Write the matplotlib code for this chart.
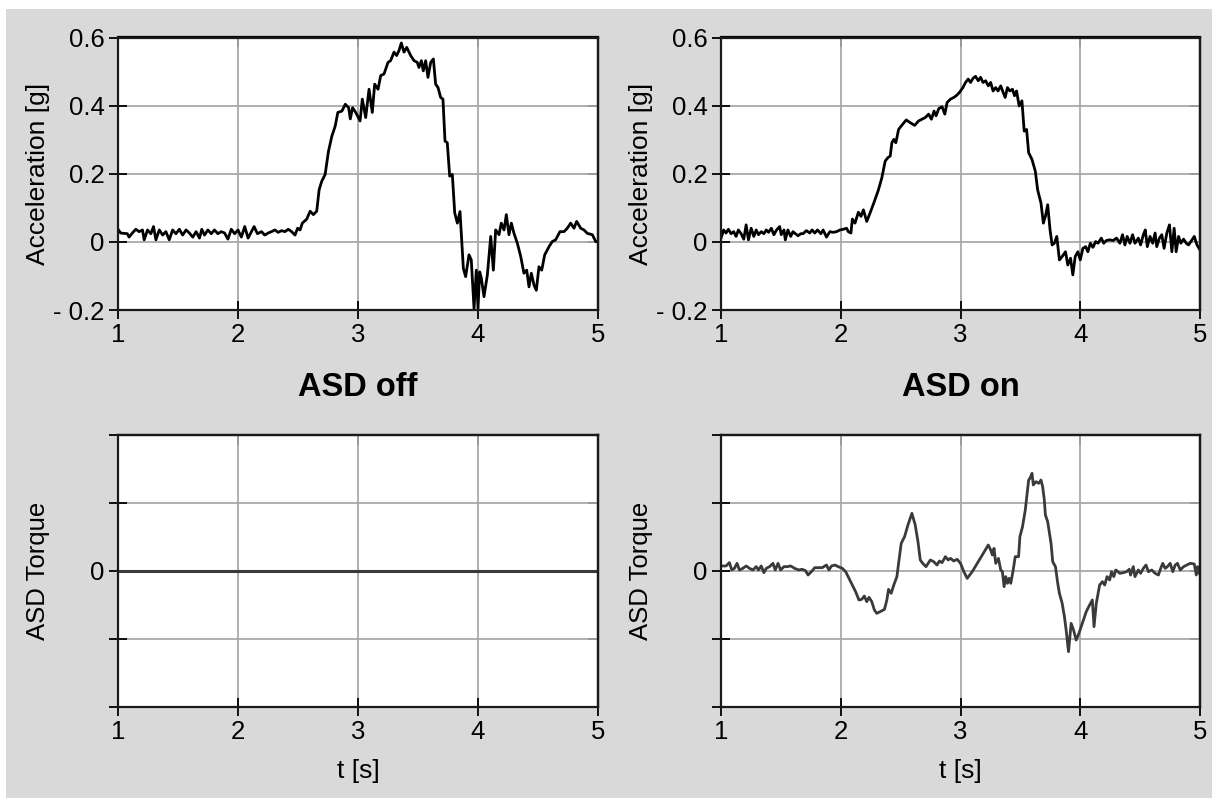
import matplotlib
matplotlib.use("Agg")
import matplotlib.pyplot as plt
from matplotlib.patches import Rectangle

plt.rcParams["font.family"] = ["Liberation Sans", "DejaVu Sans"]

# ---- data ----
x_ticks = [1, 2, 3, 4, 5]

acc_yticks = [-0.2, 0, 0.2, 0.4, 0.6]
acc_ylabels = ["- 0.2", "0", "0.2", "0.4", "0.6"]

torque_yticks = [-2, -1, 0, 1, 2]
torque_ylabels = ["", "", "0", "", ""]

# ASD off, acceleration
t_acc_off = [
    1.000, 1.022, 1.078, 1.092, 1.120, 1.148, 1.176, 1.204, 1.218, 1.246,
    1.274, 1.296, 1.316, 1.344, 1.372, 1.399, 1.427, 1.455, 1.483, 1.511,
    1.539, 1.567, 1.595, 1.623, 1.651, 1.679, 1.698, 1.721, 1.749, 1.777,
    1.804, 1.832, 1.860, 1.888, 1.916, 1.944, 1.972, 2.000, 2.028, 2.056,
    2.084, 2.112, 2.134, 2.162, 2.196, 2.223, 2.251, 2.279, 2.307, 2.335,
    2.363, 2.391, 2.419, 2.447, 2.475, 2.497, 2.517, 2.536, 2.573, 2.601,
    2.628, 2.656, 2.676, 2.698, 2.726, 2.754, 2.782, 2.810, 2.832, 2.866,
    2.894, 2.922, 2.936, 2.955, 2.983,
    3.017, 3.036, 3.064, 3.092, 3.119, 3.139, 3.167, 3.189, 3.217, 3.250,
    3.272, 3.300, 3.322, 3.342, 3.361, 3.383, 3.406, 3.439, 3.467, 3.494,
    3.508, 3.528, 3.544, 3.564, 3.583, 3.606, 3.628, 3.647, 3.667, 3.689,
    3.708, 3.725, 3.744, 3.764, 3.786, 3.806, 3.828, 3.850, 3.878, 3.897,
    3.925, 3.944, 3.967, 3.986, 4.000, 4.014, 4.028, 4.050, 4.078, 4.106,
    4.128, 4.147, 4.175, 4.194, 4.217, 4.236, 4.258, 4.278, 4.300, 4.328,
    4.356, 4.383, 4.406, 4.425, 4.444, 4.467, 4.486, 4.508, 4.531, 4.556,
    4.592, 4.619, 4.647, 4.683, 4.717, 4.744, 4.772, 4.800, 4.822, 4.856,
    4.883, 4.911, 4.953, 4.981, 5.000,
]
acc_off = [
    0.037, 0.026, 0.024, 0.014, 0.026, 0.037, 0.030, 0.035, 0.006, 0.035,
    0.024, 0.045, 0.006, 0.035, 0.020, 0.030, 0.006, 0.035, 0.024, 0.037,
    0.020, 0.035, 0.026, 0.014, 0.030, 0.011, 0.037, 0.020, 0.035, 0.024,
    0.035, 0.024, 0.030, 0.026, 0.008, 0.037, 0.024, 0.035, 0.014, 0.045,
    0.011, 0.030, 0.045, 0.024, 0.030, 0.020, 0.026, 0.030, 0.035, 0.028,
    0.033, 0.030, 0.037, 0.030, 0.020, 0.040, 0.035, 0.055, 0.067, 0.090,
    0.080, 0.090, 0.153, 0.178, 0.198, 0.266, 0.310, 0.340, 0.380, 0.384,
    0.404, 0.394, 0.361, 0.394, 0.379,
    0.355, 0.419, 0.365, 0.448, 0.380, 0.463, 0.448, 0.488, 0.493, 0.527,
    0.532, 0.557, 0.547, 0.562, 0.584, 0.557, 0.571, 0.547, 0.532, 0.527,
    0.512, 0.532, 0.502, 0.532, 0.483, 0.527, 0.537, 0.463, 0.453, 0.424,
    0.419, 0.296, 0.291, 0.193, 0.198, 0.085, 0.055, 0.089, -0.078, -0.102,
    -0.038, -0.053, -0.196, -0.083, -0.196, -0.088, -0.107, -0.161, -0.097, 0.016,
    -0.083, 0.035, 0.021, 0.055, 0.035, 0.080, 0.021, 0.055, 0.025, -0.004,
    -0.043, -0.092, -0.083, -0.132, -0.092, -0.127, -0.142, -0.073, -0.083, -0.038,
    -0.014, 0.001, 0.006, 0.030, 0.030, 0.040, 0.055, 0.040, 0.060, 0.040,
    0.035, 0.025, 0.021, 0.001, 0.000,
]

# ASD on, acceleration
t_acc_on = [
    1.000, 1.022, 1.042, 1.062, 1.084, 1.106, 1.126, 1.145, 1.168, 1.190,
    1.210, 1.229, 1.252, 1.274, 1.294, 1.313, 1.336, 1.358, 1.378, 1.397,
    1.420, 1.442, 1.464, 1.490, 1.503, 1.526, 1.537, 1.559, 1.582, 1.601,
    1.621, 1.643, 1.666, 1.685, 1.713, 1.741, 1.761, 1.783, 1.806, 1.834,
    1.853, 1.881, 1.909, 1.937, 1.965, 1.993, 2.021, 2.049, 2.063, 2.085,
    2.097, 2.119, 2.147, 2.169, 2.189, 2.217, 2.245, 2.281, 2.315, 2.343,
    2.371, 2.393, 2.413, 2.427, 2.443, 2.460, 2.483, 2.516, 2.547, 2.580,
    2.617, 2.650, 2.678, 2.706, 2.734, 2.757, 2.779, 2.796, 2.818, 2.846,
    2.869, 2.888, 2.916, 2.944, 2.964, 2.992, 3.020,
    3.042, 3.064, 3.084, 3.104, 3.126, 3.148, 3.168, 3.188, 3.210, 3.232,
    3.252, 3.272, 3.294, 3.314, 3.336, 3.356, 3.373, 3.392, 3.412, 3.434,
    3.451, 3.468, 3.490, 3.513, 3.532, 3.552, 3.569, 3.597, 3.625, 3.644,
    3.672, 3.692, 3.709, 3.728, 3.748, 3.765, 3.784, 3.804, 3.826, 3.849,
    3.877, 3.896, 3.919, 3.938, 3.958, 3.980, 4.000, 4.022, 4.045, 4.064,
    4.084, 4.106, 4.129, 4.148, 4.176, 4.196, 4.218, 4.246, 4.275, 4.303,
    4.331, 4.353, 4.373, 4.392, 4.415, 4.437, 4.457, 4.485, 4.504, 4.527,
    4.543, 4.560, 4.583, 4.605, 4.625, 4.639, 4.661, 4.681, 4.700, 4.723,
    4.745, 4.765, 4.784, 4.801, 4.821, 4.840, 4.863, 4.885, 4.905, 4.933,
    4.952, 4.975, 5.000,
]
acc_on = [
    0.011, 0.035, 0.026, 0.037, 0.024, 0.030, 0.016, 0.035, 0.024, 0.008,
    0.050, 0.006, 0.040, 0.016, 0.035, 0.021, 0.030, 0.024, 0.035, 0.028,
    0.040, 0.021, 0.035, 0.045, 0.021, 0.035, 0.006, 0.035, 0.016, 0.030,
    0.024, 0.018, 0.024, 0.024, 0.033, 0.026, 0.035, 0.026, 0.035, 0.024,
    0.035, 0.014, 0.030, 0.028, 0.030, 0.035, 0.037, 0.040, 0.030, 0.026,
    0.067, 0.055, 0.087, 0.075, 0.094, 0.060, 0.085, 0.119, 0.153, 0.188,
    0.237, 0.247, 0.252, 0.291, 0.301, 0.291, 0.330, 0.345, 0.358, 0.350,
    0.342, 0.355, 0.360, 0.365, 0.375, 0.360, 0.384, 0.370, 0.391, 0.397,
    0.375, 0.409, 0.419, 0.424, 0.429, 0.439, 0.453,
    0.468, 0.478, 0.468, 0.480, 0.486, 0.473, 0.483, 0.468, 0.473, 0.458,
    0.468, 0.443, 0.453, 0.443, 0.458, 0.439, 0.424, 0.453, 0.443, 0.448,
    0.429, 0.443, 0.399, 0.414, 0.325, 0.330, 0.262, 0.242, 0.207, 0.153,
    0.114, 0.055, 0.075, 0.109, 0.035, -0.009, -0.004, 0.016, -0.053, -0.043,
    -0.029, -0.068, -0.048, -0.097, -0.043, -0.029, -0.053, -0.019, -0.014, -0.029,
    -0.004, -0.016, 0.001, -0.004, 0.011, -0.004, 0.004, 0.006, 0.004, 0.011,
    -0.004, 0.021, -0.009, 0.016, -0.004, 0.021, -0.004, 0.011, -0.009, 0.021,
    0.035, -0.014, 0.016, -0.004, 0.026, -0.014, 0.011, 0.021, -0.019, 0.026,
    0.050, -0.029, 0.040, -0.029, 0.016, -0.004, 0.008, -0.004, -0.009, 0.006,
    0.016, -0.009, -0.024,
]

# ASD off, torque (no actuation)
t_torque_off = [1.0, 5.0]
torque_off = [0.0, 0.0]

# ASD on, torque (tick units)
t_torque_on = [
    1.000, 1.042, 1.070, 1.090, 1.112, 1.134, 1.154, 1.182, 1.210, 1.238,
    1.266, 1.294, 1.313, 1.336, 1.358, 1.378, 1.406, 1.434, 1.453, 1.476,
    1.498, 1.526, 1.554, 1.582, 1.615, 1.649, 1.677, 1.705, 1.727, 1.755,
    1.783, 1.817, 1.845, 1.881, 1.901, 1.923, 1.951, 1.979, 2.013, 2.041,
    2.069, 2.097, 2.124, 2.152, 2.175, 2.197, 2.217, 2.236, 2.259, 2.281,
    2.301, 2.329, 2.365, 2.385, 2.399, 2.421, 2.443, 2.469, 2.483, 2.505,
    2.533, 2.561, 2.594, 2.622, 2.645, 2.664, 2.684, 2.712, 2.748, 2.776,
    2.804, 2.824, 2.846, 2.874, 2.897, 2.916, 2.944, 2.972, 3.000, 3.028,
    3.056, 3.098, 3.140, 3.182, 3.232, 3.252, 3.266, 3.280, 3.294, 3.317,
    3.336, 3.350, 3.364, 3.378, 3.392, 3.406, 3.420, 3.440, 3.457, 3.485,
    3.496, 3.518, 3.541, 3.569, 3.580, 3.597, 3.608, 3.630, 3.653, 3.672,
    3.686, 3.700, 3.709, 3.728, 3.756, 3.770, 3.793, 3.812, 3.826, 3.849,
    3.868, 3.882, 3.902, 3.924, 3.944, 3.966, 3.989, 4.017, 4.050, 4.078,
    4.101, 4.115, 4.134, 4.162, 4.185, 4.204, 4.224, 4.246, 4.261, 4.280,
    4.297, 4.331, 4.359, 4.387, 4.409, 4.420, 4.443, 4.457, 4.485, 4.504,
    4.527, 4.549, 4.569, 4.597, 4.625, 4.653, 4.672, 4.689, 4.709, 4.728,
    4.751, 4.773, 4.793, 4.812, 4.835, 4.863, 4.891, 4.919, 4.952, 4.969,
    4.980, 4.990, 5.000,
]
torque_on = [
    0.074, 0.074, 0.123, 0.015, 0.039, 0.113, 0.015, 0.039, 0.074, 0.039,
    0.015, 0.064, 0.015, 0.074, -0.025, 0.039, 0.064, 0.113, 0.015, 0.113,
    0.015, 0.064, 0.064, 0.074, 0.039, 0.015, 0.025, 0.005, -0.059, -0.010,
    0.049, 0.049, 0.049, 0.088, 0.015, 0.074, 0.088, 0.064, 0.039, -0.010,
    -0.108, -0.206, -0.304, -0.426, -0.417, -0.368, -0.451, -0.387, -0.451, -0.574,
    -0.623, -0.598, -0.564, -0.426, -0.270, -0.328, -0.206, -0.083, 0.113, 0.407,
    0.505, 0.676, 0.848, 0.676, 0.431, 0.162, 0.113, 0.064, 0.162, 0.137,
    0.088, 0.147, 0.123, 0.211, 0.162, 0.186, 0.147, 0.172, 0.113, -0.010,
    -0.108, -0.010, 0.113, 0.235, 0.382, 0.309, 0.235, 0.333, 0.113, 0.186,
    0.015, -0.010, -0.230, -0.083, -0.181, -0.108, -0.181, 0.015, 0.211, 0.211,
    0.505, 0.652, 0.897, 1.338, 1.363, 1.436, 1.265, 1.314, 1.289, 1.338,
    1.240, 1.044, 0.824, 0.725, 0.407, 0.137, 0.064, -0.181, -0.328, -0.475,
    -0.672, -0.868, -1.186, -0.770, -0.868, -1.015, -0.917, -0.770, -0.598, -0.500,
    -0.426, -0.819, -0.475, -0.206, -0.157, -0.206, -0.083, -0.132, -0.010, -0.083,
    0.015, -0.034, -0.025, -0.010, 0.025, -0.059, 0.064, -0.083, 0.015, -0.034,
    0.039, 0.088, -0.010, 0.015, -0.034, -0.059, 0.039, 0.113, 0.039, 0.064,
    0.113, -0.010, 0.088, 0.113, 0.015, 0.064, 0.088, 0.113, 0.103, -0.059,
    0.064, -0.034, 0.039,
]

W, H = 1212, 798
fig = plt.figure(figsize=(W / 100, H / 100), dpi=100, facecolor="white")
# grey panel behind the plots (thin white margin on top and left)
fig.add_artist(Rectangle((6 / W, 0), 1, 1 - 9 / H, transform=fig.transFigure,
                         facecolor="#d9d9d9", edgecolor="none", zorder=-10))


def make_axes(left_px, top_px, right_px, bottom_px):
    return fig.add_axes([left_px / W, 1 - bottom_px / H,
                         (right_px - left_px) / W, (bottom_px - top_px) / H])


def style(ax, ylim, yticks, ylabels, ylabel, ylabel_size, xlabel=None):
    ax.set_facecolor("white")
    ax.set_xlim(1, 5)
    ax.set_ylim(*ylim)
    ax.set_xticks(x_ticks)
    ax.set_yticks(yticks)
    ax.set_yticklabels(ylabels)
    ax.grid(True, color="#a9a9a9", linewidth=1.3)
    ax.set_axisbelow(True)
    ax.tick_params(direction="inout", length=13, width=1.3, labelsize=18.5, pad=3)
    for sp in ax.spines.values():
        sp.set_linewidth(1.6)
        sp.set_color("#1a1a1a")
    top = ax.secondary_xaxis("top")
    top.set_xticks(x_ticks)
    top.tick_params(direction="in", length=7, width=1.3, labeltop=False)
    top.spines["top"].set_linewidth(1.6)
    right = ax.secondary_yaxis("right")
    right.set_yticks(yticks)
    right.tick_params(direction="in", length=7, width=1.3, labelright=False)
    right.spines["right"].set_linewidth(1.6)
    ax.set_ylabel(ylabel, fontsize=ylabel_size)
    ax.yaxis.set_label_coords(-0.142, 0.5)
    if xlabel:
        ax.set_xlabel(xlabel, fontsize=19)
        ax.xaxis.set_label_coords(0.5, -0.19)


ax_tl = make_axes(118, 37.5, 598, 310)
ax_tr = make_axes(721, 37.5, 1200, 310)
ax_bl = make_axes(118, 435, 598, 707)
ax_br = make_axes(721, 435, 1200, 707)

ax_tl.plot(t_acc_off, acc_off, color="black", linewidth=2.0)
ax_tr.plot(t_acc_on, acc_on, color="black", linewidth=2.0)
ax_bl.plot(t_torque_off, torque_off, color="#3a3a3a", linewidth=2.2)
ax_br.plot(t_torque_on, torque_on, color="#3a3a3a", linewidth=2.0)

for ax in (ax_tl, ax_tr):
    style(ax, (-0.2, 0.6), acc_yticks, acc_ylabels, "Acceleration [g]", 19)
for ax in (ax_bl, ax_br):
    style(ax, (-2, 2), torque_yticks, torque_ylabels, "ASD Torque", 18.5, "t [s]")

fig.text(358 / W, 1 - 388 / H, "ASD off", ha="center", va="center",
         fontsize=23.5, fontweight="bold")
fig.text(961 / W, 1 - 388 / H, "ASD on", ha="center", va="center",
         fontsize=23.5, fontweight="bold")

fig.savefig("out.png", dpi=100, facecolor=fig.get_facecolor())
